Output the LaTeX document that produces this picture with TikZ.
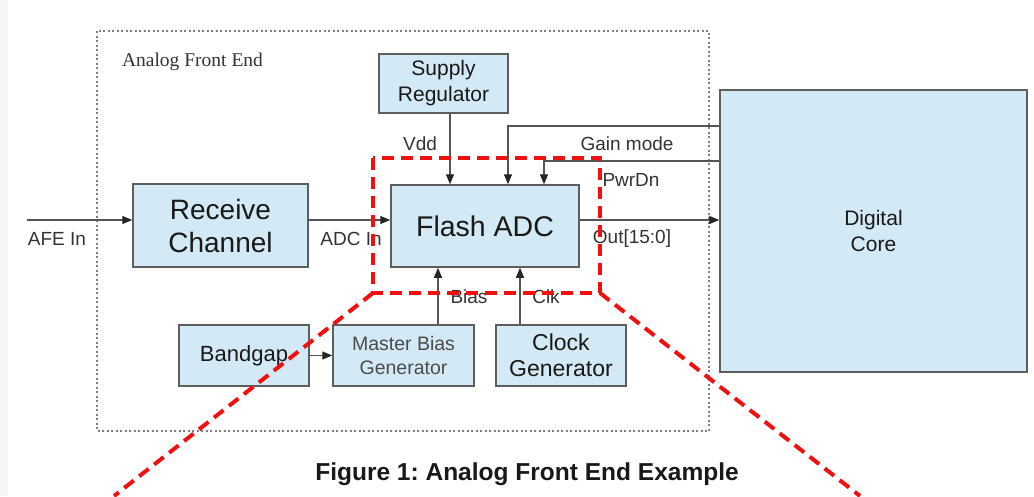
\documentclass[tikz,border=0pt]{standalone}
\usepackage{fontspec}
\setmainfont{Liberation Sans}
\newfontfamily\afeserif{Liberation Serif}
\usetikzlibrary{arrows.meta}
\definecolor{boxblue}{HTML}{D3E9F5}
\definecolor{boxline}{HTML}{5E5E5E}
\definecolor{wire}{HTML}{555555}
\definecolor{labtext}{HTML}{333333}
\definecolor{zoomred}{HTML}{F01010}
\tikzstyle{block} = [rectangle, draw=boxline, fill=boxblue, line width=1.5pt, inner sep=0pt, align=center, text=black!90]
\tikzstyle{wirearrow} = [draw=wire, line width=1.3pt, -{Triangle[length=10pt,width=8pt,fill=black!85,color=black!85]}]
\tikzstyle{siglabel} = [text=labtext, font=\fontsize{19}{21}\selectfont, inner sep=0pt]
\tikzstyle{zoomline} = [draw=zoomred, line width=4pt, dash pattern=on 12pt off 7pt]

\begin{document}
\frenchspacing
\begin{tikzpicture}[x=1pt, y=-1pt]
\useasboundingbox (0,0) rectangle (1034,496);
\fill[gray!8] (0,0) rectangle (8,496);

% analog front end frame
\draw[gray, line width=1.5pt, dash pattern=on 2pt off 2.5pt] (97,31) rectangle (709,431);
\node (afe) [font=\afeserif\fontsize{19.5}{21}\selectfont, text=black!80] at (192.5,62) {Analog Front End};

% blocks
\node (supreg) [block, minimum width=129pt, minimum height=59pt, font=\fontsize{21}{26}\selectfont] at (443.5,83.5) {Supply\\Regulator};
\node (recv) [block, minimum width=175pt, minimum height=83pt, font=\fontsize{28}{33}\selectfont] at (220.5,225.5) {Receive\\Channel};
\node (adc) [block, minimum width=188pt, minimum height=82pt, font=\fontsize{28.5}{30}\selectfont] at (485,226) {Flash ADC};
\node (core) [block, minimum width=307pt, minimum height=282pt, font=\fontsize{21}{26}\selectfont] at (873.5,231) {Digital\\Core};
\node (bgap) [block, minimum width=130pt, minimum height=61pt, font=\fontsize{22}{24}\selectfont] at (244,355.5) {Bandgap};
\node (mbias) [block, minimum width=141pt, minimum height=61pt, font=\fontsize{19.5}{24}\selectfont, text=black!70] at (403.5,355.5) {Master Bias\\Generator};
\node (clkgen) [block, minimum width=130pt, minimum height=61pt, font=\fontsize{23}{26}\selectfont] at (561,355.5) {Clock\\Generator};

% connectors
\coordinate (afein) at (27,220);
\coordinate (gm) at (508,126);
\coordinate (pd) at (544,161);
\draw[wirearrow] (afein) -- (recv.west |- afein);
\draw[wirearrow] (recv.east |- afein) -- (adc.west |- afein);
\draw[wirearrow] ([xshift=6.5pt]supreg.south) -- ([xshift=6.5pt]supreg.south |- adc.north);
\draw[wirearrow] (core.west |- gm) -| ([xshift=23pt]adc.north);
\draw[wirearrow] (core.west |- pd) -| ([xshift=59pt]adc.north);
\draw[wirearrow] (adc.east |- afein) -- (core.west |- afein);
\draw[wirearrow] ([xshift=34.5pt]mbias.north) -- ([xshift=34.5pt]mbias.north |- adc.south);
\draw[wirearrow] ([xshift=-41pt]clkgen.north) -- ([xshift=-41pt]clkgen.north |- adc.south);
\draw[wirearrow] (bgap.east) -- (mbias.west);

% signal labels
\node (lafe) [siglabel] at (57,239) {AFE In};
\node (ladc) [siglabel] at (351,239) {ADC In};
\node (lvdd) [siglabel] at (420,144) {Vdd};
\node (lgain) [siglabel] at (627,144) {Gain mode};
\node (lpwr) [siglabel] at (631,180) {PwrDn};
\node (lout) [siglabel] at (632,239) {Out[15:0]};
\node (lbias) [siglabel] at (469,297) {Bias};
\node (lclk) [siglabel] at (546,297) {Clk};

% zoom marker
\coordinate (zl) at (373,293);
\coordinate (zr) at (600,293);
\draw[zoomline] (373,158) rectangle (zr);
\draw[zoomline] (zl) -- (114,496);
\draw[zoomline] (zr) -- (860,496);

\node (caption) [font=\bfseries\fontsize{24.5}{26}\selectfont, text=black!90] at (527,474) {Figure 1: Analog Front End Example};
\end{tikzpicture}
\end{document}
